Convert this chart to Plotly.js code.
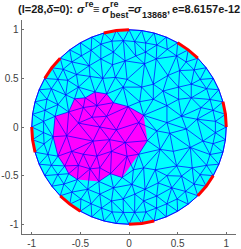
<!DOCTYPE html>
<html><head><meta charset="utf-8">
<script src="https://cdn.plot.ly/plotly-3.0.1.min.js"></script>
<style>html,body{margin:0;padding:0;background:#fff}#c{width:241px;height:249px}</style></head>
<body><div id="c"></div>
<script>
const boundaryDeg=[0,7.5,15,22.5,30,37.5,45,52.5,60,67.5,75,82.5,90,97.5,105,112.5,120,127.5,135,142.5,150,157.5,165,172.5,180,187.5,195,202.5,210,217.5,225,232.5,240,247.5,255,262.5,270,277.5,285,292.5,300,307.5,315,322.5,330,337.5,345,352.5];
const secondRingDeg=[3.75,11.25,18.75,26.25,33.75,41.25,48.75,56.25,63.75,71.25,78.75,86.25,93.75,101.25,108.75,116.25,123.75,131.25,138.75,146.25,153.75,161.25,168.75,176.25,183.75,191.25,198.75,206.25,213.75,221.25,228.75,236.25,243.75,251.25,258.75,266.25,273.75,281.25,288.75,296.25,303.75,311.25,318.75,326.25,333.75,341.25,348.75,356.25];
const secondRingR=[.89,.88,.88,.89,.88,.89,.89,.88,.89,.89,.88,.88,.89,.90,.90,.88,.88,.89,.90,.88,.89,.89,.88,.88,.88,.89,.88,.89,.88,.89,.89,.89,.88,.88,.89,.88,.88,.89,.88,.88,.89,.88,.89,.88,.89,.88,.88,.89];
const electrodeDeg=[[0,7.5,15],[45,52.5,60],[90,97.5,105],[135,142.5,150],[180,187.5,195],[225,232.5,240],[270,277.5,285],[315,322.5,330]];
const magentaX=[-.35,-.23,-.16,-.01,.15,.19,.10,-.07,-.19,-.31,-.53,-.62,-.73,-.78,-.76,-.62,-.56,-.45];
const magentaY=[.36,.34,.25,.21,.12,-.14,-.28,-.52,-.48,-.56,-.54,-.48,-.30,-.10,.11,.155,.29,.30];
const interiorX=[-.41,-.54,-.29,-.17,-.16,-.04,-.04,-.63,-.52,-.40,-.27,-.14,-.02,-.76,-.65,-.37,-.20,-.06,-.73,-.58,-.47,-.33,-.18,-.02,-.67,-.52,-.38,-.23,-.06,
.17,.27,.39,.49,.60,.39,.28,.16,.07,.40,.52,.66,.76,.64,.51,.35,.25,.13,.03,.11,.25,.39,.51,.64,.74,.81,.23,.39,.54,.70,.10,
-.64,-.37,-.20,-.04,-.30,-.13,-.73,-.59,-.47,-.33,-.18,-.02,-.66,-.52,-.40,-.30,-.18,-.71,-.54,-.30,-.425,-.16,-.66,-.555,-.30,-.54,-.40,-.18,-.06,
.285,.42,.59,.76,.20,.32,.455,.63,.65,.80,.49,.39,.27,.15,.045,.54,.30,.165,.03,.44,.56,.285,.42,.15,.06,.27,.045];
const interiorY=[.63,.54,.70,.64,.77,.84,.68,.48,.41,.52,.50,.51,.49,.30,.33,.36,.34,.41,.23,.26,.20,.22,.23,.27,.12,.04,.10,.11,.14,
.77,.76,.79,.73,.68,.79,.70,.65,.73,.53,.58,.61,.50,.44,.41,.37,.44,.41,.47,.26,.285,.22,.285,.30,.20,.41,.11,.045,.11,.08,.045,
-.09,-.145,-.13,-.16,0,-.03,-.23,-.25,-.28,-.30,-.25,-.30,-.40,-.395,-.43,-.42,-.44,-.52,-.54,-.557,-.64,-.625,-.64,-.64,-.69,-.72,-.74,-.76,-.74,
-.04,-.065,-.02,-.145,-.18,-.23,-.25,-.21,-.42,-.35,-.40,-.50,-.44,-.42,-.44,-.505,-.575,-.64,-.59,-.625,-.66,-.71,-.74,-.76,-.69,-.76,-.77];
const titleParts=[
 ["(l=28,<i>δ</i>=0):",17,9,11],["<i>σ</i>",76,9,11],["re",84,4.5,9],["≡",92,9,11],["<i>σ</i>",101,9,11],
 ["re",108.5,4.5,9],["best",108.5,14.5,9],["=",127,9,11],["<i>σ</i>",133,9,11],["13868",141,14.5,9],[",",166,9,11],["e=8.6157e-12",171,9,11]];
const axisTicks=[-1,-.5,0,.5,1], axisTickText=["-1","-0.5","0","0.5","1"];

const rad=d=>d*Math.PI/180;
const bx=boundaryDeg.map(d=>Math.cos(rad(d))), by=boundaryDeg.map(d=>Math.sin(rad(d)));
const px=[...bx,...magentaX], py=[...by,...magentaY];
function addVertex(x,y,gap){for(let k=0;k<px.length;k++) if(Math.hypot(px[k]-x,py[k]-y)<gap)return; px.push(x);py.push(y);}
secondRingDeg.forEach((d,i)=>addVertex(secondRingR[i]*Math.cos(rad(d)),secondRingR[i]*Math.sin(rad(d)),.05));
interiorX.forEach((x,i)=>addVertex(x,interiorY[i],.088));
const n=px.length,R=.36,edges=new Set();
for(let a=0;a<n;a++)for(let b=a+1;b<n;b++){ if(Math.hypot(px[a]-px[b],py[a]-py[b])>R)continue;
 for(let c=b+1;c<n;c++){ if(Math.hypot(px[a]-px[c],py[a]-py[c])>R||Math.hypot(px[b]-px[c],py[b]-py[c])>R)continue;
  const ax=px[a],ay=py[a],bX=px[b]-ax,bY=py[b]-ay,cX=px[c]-ax,cY=py[c]-ay,D=2*(bX*cY-bY*cX);
  if(Math.abs(D)<1e-6)continue;
  const ux=(cY*(bX*bX+bY*bY)-bY*(cX*cX+cY*cY))/D,uy=(bX*(cX*cX+cY*cY)-cX*(bX*bX+bY*bY))/D,r2=ux*ux+uy*uy;
  let ok=true;
  for(let k=0;k<n&&ok;k++){ if(k==a||k==b||k==c)continue; const dx=px[k]-ax-ux,dy=py[k]-ay-uy; if(dx*dx+dy*dy<r2-1e-9)ok=false;}
  if(ok){edges.add(a+"_"+b);edges.add(a+"_"+c);edges.add(b+"_"+c);}
 }}
const ex=[],ey=[];
edges.forEach(s=>{const [a,b]=s.split("_").map(Number);ex.push(px[a],px[b],null);ey.push(py[a],py[b],null);});
const traces=[
 {x:[...bx,bx[0]],y:[...by,by[0]],mode:"lines",fill:"toself",fillcolor:"#00ffff",line:{color:"#0000ff",width:.8},hoverinfo:"skip"},
 {x:[...magentaX,magentaX[0]],y:[...magentaY,magentaY[0]],mode:"lines",fill:"toself",fillcolor:"#ff00ff",line:{color:"rgba(0,0,0,0)",width:0},hoverinfo:"skip"},
 {x:ex,y:ey,mode:"lines",line:{color:"#0000ff",width:.7},connectgaps:false,hoverinfo:"skip"}
];
electrodeDeg.forEach(a=>traces.push({x:a.map(d=>Math.cos(rad(d))),y:a.map(d=>Math.sin(rad(d))),mode:"lines",line:{color:"#ff0000",width:3},cliponaxis:false,hoverinfo:"skip"}));
const L=22,T=20,W=214,H=214;
const axis={range:[-1.1,1.1],tickvals:axisTicks,ticktext:axisTickText,showgrid:false,zeroline:false,showline:true,linecolor:"#6e6e6e",linewidth:1.4,ticks:"inside",ticklen:2,tickcolor:"#6e6e6e",tickfont:{family:"Liberation Sans",size:10,color:"#404040"}};
Plotly.newPlot("c",traces,{
 width:241,height:249,showlegend:false,paper_bgcolor:"#fff",plot_bgcolor:"#fff",
 margin:{l:L,r:241-L-W,t:T,b:249-T-H,pad:0},
 xaxis:{...axis},yaxis:{...axis},
 annotations:titleParts.map(p=>({text:"<b>"+p[0]+"</b>",xref:"paper",yref:"paper",x:(p[1]-L)/W,y:(249-p[2]-(249-T-H))/H,xanchor:"left",yanchor:"middle",showarrow:false,borderpad:0,align:"left",font:{family:"Liberation Sans",size:p[3],color:"#1a1a1a"}}))
},{displayModeBar:false,staticPlot:true});
</script></body></html>
